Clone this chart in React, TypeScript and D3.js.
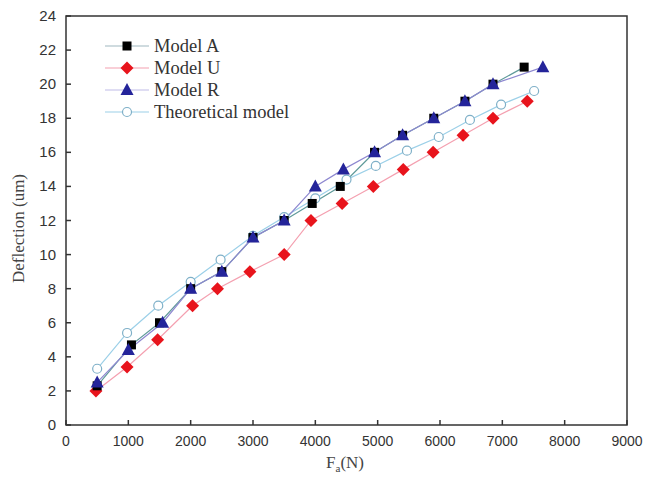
import React from "react";
import * as d3 from "d3";

const xTicks = [0, 1000, 2000, 3000, 4000, 5000, 6000, 7000, 8000, 9000];
const yTicks = [0, 2, 4, 6, 8, 10, 12, 14, 16, 18, 20, 22, 24];

const modelAx = [500, 1050, 1500, 2000, 2500, 3000, 3500, 3950, 4400, 4950, 5400, 5900, 6400, 6850, 7350];
const modelAy = [2.3, 4.7, 6, 8, 9, 11, 12, 13, 14, 16, 17, 18, 19, 20, 21];
const modelUx = [480, 980, 1470, 2030, 2430, 2950, 3500, 3930, 4430, 4930, 5410, 5890, 6370, 6850, 7400];
const modelUy = [2, 3.4, 5, 7, 8, 9, 10, 12, 13, 14, 15, 16, 17, 18, 19];
const modelRx = [500, 1000, 1550, 2000, 2500, 3000, 3500, 4000, 4450, 4950, 5400, 5900, 6400, 6850, 7650];
const modelRy = [2.5, 4.4, 6, 8, 9, 11, 12, 14, 15, 16, 17, 18, 19, 20, 21];
const theoX = [500, 980, 1480, 2000, 2480, 3000, 3500, 4000, 4500, 4970, 5470, 5980, 6480, 6980, 7510];
const theoY = [3.3, 5.4, 7, 8.4, 9.7, 11.1, 12.2, 13.3, 14.4, 15.2, 16.1, 16.9, 17.9, 18.8, 19.6];

const seriesNames = ["Model A", "Model U", "Model R", "Theoretical model"];

const W = 648, H = 480;
const L = 66, R = 627, T = 16, B = 425;

export default function App() {
  const x = d3.scaleLinear().domain([0, 9000]).range([L, R]);
  const y = d3.scaleLinear().domain([0, 24]).range([B, T]);
  const line = d3.line<[number, number]>().x(d => x(d[0])).y(d => y(d[1]));
  const zip = (a: number[], b: number[]) => a.map((v, i) => [v, b[i]] as [number, number]);

  const A = zip(modelAx, modelAy);
  const U = zip(modelUx, modelUy);
  const Rr = zip(modelRx, modelRy);
  const Th = zip(theoX, theoY);

  const sq = (cx: number, cy: number, k: string | number) => (
    <rect key={k} x={cx - 4.5} y={cy - 4.5} width={9} height={9} fill="#000" />
  );
  const dia = (cx: number, cy: number, k: string | number) => (
    <path key={k} d={`M${cx},${cy - 6.5}L${cx + 6.5},${cy}L${cx},${cy + 6.5}L${cx - 6.5},${cy}Z`} fill="#e8141c" />
  );
  const tri = (cx: number, cy: number, k: string | number) => (
    <path key={k} d={`M${cx},${cy - 7}L${cx + 6.5},${cy + 5}L${cx - 6.5},${cy + 5}Z`} fill="#24249a" />
  );
  const circ = (cx: number, cy: number, k: string | number) => (
    <circle key={k} cx={cx} cy={cy} r={4.5} fill="#fff" stroke="#7fb0c8" strokeWidth={1.2} />
  );

  const series = [
    { data: Th, color: "#9cd0e8", mark: circ },
    { data: U, color: "#f4a0b0", mark: dia },
    { data: A, color: "#5f9a9a", mark: sq },
    { data: Rr, color: "#8e88d0", mark: tri },
  ];
  const legend = [
    { color: "#9fb8c0", mark: sq },
    { color: "#f4a0b0", mark: dia },
    { color: "#c0bce8", mark: tri },
    { color: "#9cd0e8", mark: circ },
  ];

  return (
    <svg width={W} height={H} style={{ position: "absolute", left: 0, top: 0, background: "#fff" }}>
      <rect x={0} y={0} width={W} height={H} fill="#fff" />
      {series.map((s, i) => (
        <path key={"l" + i} d={line(s.data) || ""} fill="none" stroke={s.color} strokeWidth={1.2} />
      ))}
      {series.map((s, i) => (
        <g key={"m" + i}>{s.data.map((d, j) => s.mark(x(d[0]), y(d[1]), j))}</g>
      ))}
      <rect x={L} y={T} width={R - L} height={B - T} fill="none" stroke="#333" strokeWidth={1.5} />
      {xTicks.map(t => (
        <g key={"x" + t}>
          <line x1={x(t)} x2={x(t)} y1={B} y2={B - 5} stroke="#333" strokeWidth={1.5} />
          <text x={x(t)} y={446} textAnchor="middle" fontFamily="Liberation Sans, Arial, sans-serif" fontSize={14} fill="#333">{t}</text>
        </g>
      ))}
      {yTicks.map(t => (
        <g key={"y" + t}>
          <line x1={L} x2={L + 5} y1={y(t)} y2={y(t)} stroke="#333" strokeWidth={1.5} />
          <text x={56} y={y(t) + 5} textAnchor="end" fontFamily="Liberation Sans, Arial, sans-serif" fontSize={15} fill="#333">{t}</text>
        </g>
      ))}
      <text transform={`translate(24,${(T + B) / 2 + 8}) rotate(-90)`} textAnchor="middle" fontFamily="Liberation Serif, Times New Roman, serif" fontSize={17} fill="#444">Deflection (um)</text>
      <text x={345} y={468} textAnchor="middle" fontFamily="Liberation Serif, Times New Roman, serif" fontSize={17} fill="#444">
        F<tspan fontSize={11} dy={4}>a</tspan><tspan dy={-4}>(N)</tspan>
      </text>
      {seriesNames.map((n, i) => {
        const ly = 46 + i * 22;
        return (
          <g key={"lg" + i}>
            <line x1={105} x2={149} y1={ly} y2={ly} stroke={legend[i].color} strokeWidth={1.2} />
            {legend[i].mark(127, ly, "m")}
            <text x={154} y={ly + 6} fontFamily="Liberation Serif, Times New Roman, serif" fontSize={18.5} fill="#333">{n}</text>
          </g>
        );
      })}
    </svg>
  );
}
